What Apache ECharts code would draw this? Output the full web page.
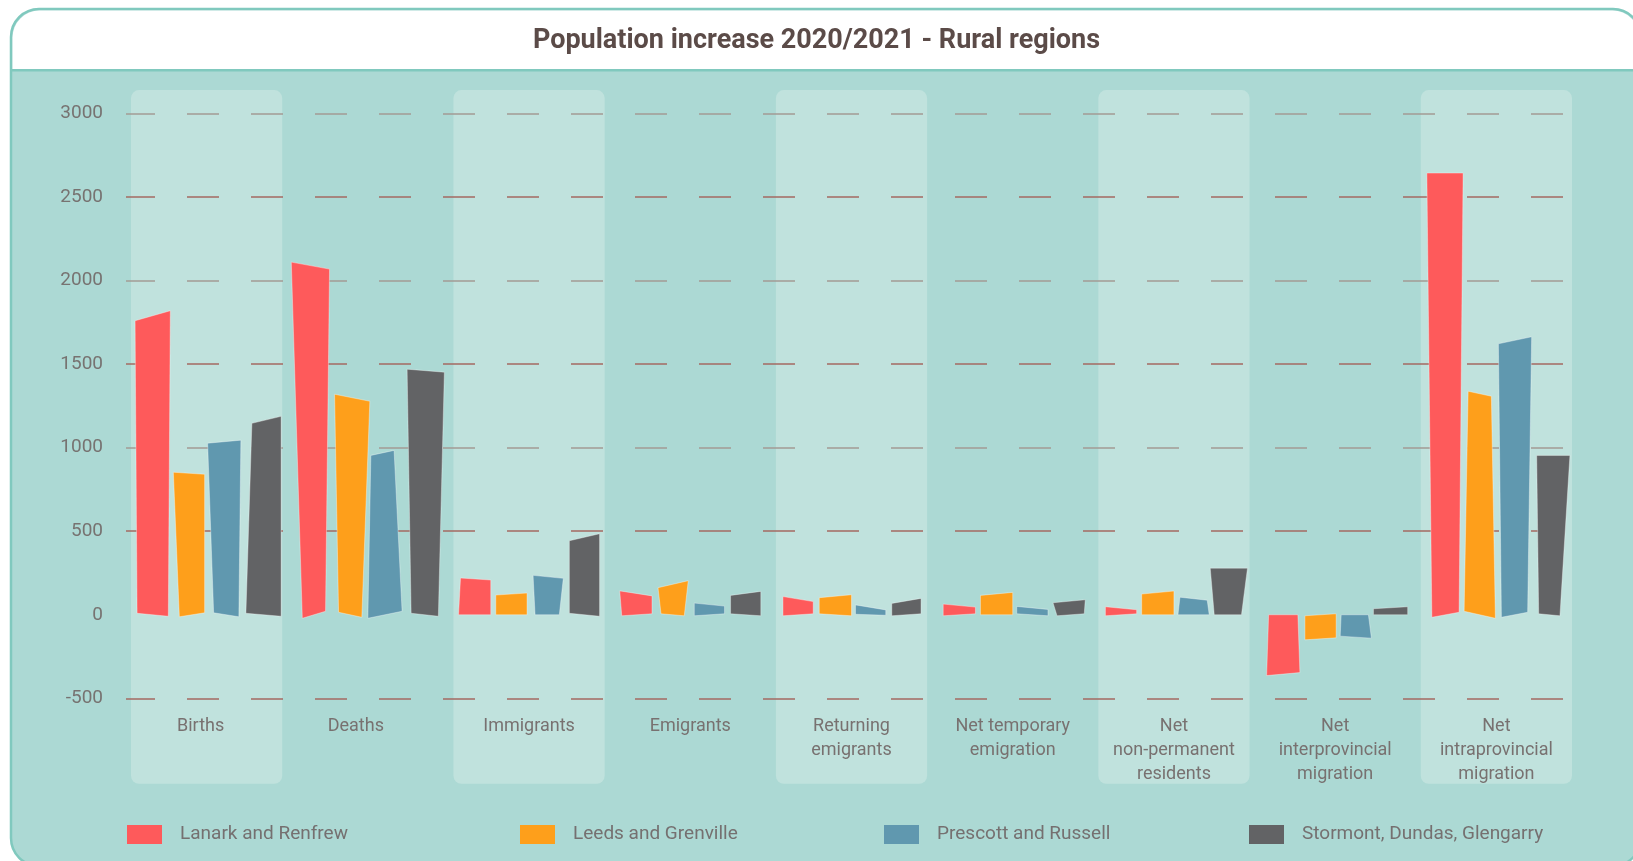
<!DOCTYPE html>
<html>
<head>
<meta charset="utf-8">
<script src="https://cdn.jsdelivr.net/npm/echarts@6/dist/echarts.min.js"></script>
<style>
html,body{margin:0;padding:0;background:#ffffff;}
#chart{width:1633px;height:861px;}
</style>
</head>
<body>
<div id="chart"></div>
<script>
// ---------- DATA ----------
const categories = ['Births', 'Deaths', 'Immigrants', 'Emigrants', 'Returning\nemigrants',
  'Net temporary\nemigration', 'Net\nnon-permanent\nresidents', 'Net\ninterprovincial\nmigration',
  'Net\nintraprovincial\nmigration'];
const seriesNames = ['Lanark and Renfrew', 'Leeds and Grenville', 'Prescott and Russell', 'Stormont, Dundas, Glengarry'];
const lanarkRenfrew   = [1790, 2090, 214, 128, 94, 55, 39, -355, 2644];
const leedsGrenville  = [847, 1299, 124, 183, 111, 125, 133, -144, 1323];
const prescottRussell = [1036, 969, 227, 61, 44, 41, 96, -134, 1643];
const stormontDG      = [1167, 1461, 464, 128, 83, 81, 279, 42, 954];
const yTicks = [-500, 0, 500, 1000, 1500, 2000, 2500, 3000];

// ---------- STYLE (hand-drawn look of each bar) ----------
const colors = ['#fe5a5b', '#fe9f1b', '#6098af', '#626365'];
// per bar: [valueEndTilt, baseEndTilt] in px (right corner minus left corner)
const tilts = [
  [[-10,3],[7,-7],[2,0],[5,-2],[5,-2],[3,-2],[3,-2],[-3,0],[0,-5]],
  [[2,-4],[7,5],[-2,0],[-7,2],[-3,2],[-3,0],[-3,0],[-2,-2],[5,7]],
  [[-3,4],[-5,-7],[3,0],[3,-2],[5,1],[3,2],[3,0],[2,0],[-7,-5]],
  [[-7,3],[3,3],[-7,3],[-4,2],[-5,-2],[-3,-2],[0,0],[-2,0],[0,2]]
];
// per bar corner x-offsets in px: [valueLeft, valueRight, baseLeft, baseRight]
const skews = [
  [[-1,2,1,0],[-6,0,5,-4],[2,0,0,0],[0,0,2,0],[2,0,2,0],[1,1,1,1],[2,1,2,1],[2,3,4,1],[1,5,6,1]],
  [[1,0,7,0],[1,4,5,-4],[1,0,1,0],[2,0,5,-4],[2,2,2,2],[2,2,2,2],[2,2,2,2],[4,3,4,3],[6,-3,2,1]],
  [[-1,0,5,-2],[1,-8,-2,0],[2,0,4,-4],[2,0,2,0],[2,0,2,0],[2,1,2,1],[4,-1,2,1],[3,2,4,-1],[0,1,3,-3]],
  [[7,4,1,4],[1,6,5,0],[2,0,2,0],[2,0,2,0],[2,-1,2,-1],[2,2,6,1],[-2,3,2,-3],[0,2,0,2],[2,3,4,-7]]
];
// small horizontal nudges of the category labels (px, negative = left)
const labelNudge = [-6, -12, 0, 0, 0, 0, 0, 0, 0];
const allValues = [lanarkRenfrew, leedsGrenville, prescottRussell, stormontDG];

const FONT = 'Roboto';
const chart = echarts.init(document.getElementById('chart'), null, {renderer: 'canvas'});

function bandRender(params, api) {
  const idx = api.value(0);
  if (idx % 2 !== 0) return null;
  const cs = params.coordSys;
  const c = api.coord([idx, 0]);
  const w = api.size([1, 0])[0];
  return {
    type: 'rect',
    shape: {x: c[0] - w / 2 + 5, y: cs.y - 23.5, width: w - 10, height: cs.height + 109, r: 8},
    style: {fill: '#c0e2dd'},
    silent: true
  };
}

function makeBarRender(k) {
  return function (params, api) {
    const cat = api.value(0);
    const val = api.value(1);
    const pv = api.coord([cat, val]);
    const p0 = api.coord([cat, 0]);
    const w = api.size([1, 0])[0];
    const cx = pv[0] + (k - 1.5) * w * 0.225;
    const hw = w * 0.1;
    const t = tilts[k][cat], s = skews[k][cat];
    const pts = [
      [cx - hw + s[0], pv[1] - t[0] / 2],
      [cx + hw + s[1], pv[1] + t[0] / 2],
      [cx + hw + s[3], p0[1] + t[1] / 2],
      [cx - hw + s[2], p0[1] - t[1] / 2]
    ];
    return {
      type: 'polygon',
      shape: {points: pts},
      style: {fill: colors[k], stroke: 'rgba(255,255,255,0.35)', lineWidth: 1}
    };
  };
}

const barSeries = seriesNames.map((name, k) => ({
  name: name,
  type: 'custom',
  renderItem: makeBarRender(k),
  data: allValues[k].map((v, i) => [i, v]),
  encode: {x: 0, y: 1},
  itemStyle: {color: colors[k]},
  clip: false,
  z: 5
}));

const legendLefts = [127, 520, 884, 1249];
const legends = seriesNames.map((name, k) => ({
  data: [name],
  left: legendLefts[k],
  top: 825,
  padding: 0,
  icon: 'rect',
  itemWidth: 35,
  itemHeight: 19,
  selectedMode: false,
  textStyle: {fontFamily: FONT, fontSize: 19, color: '#757070', padding: [0, 0, 0, 13]}
}));

const gridGray = '#a39b94', gridRed = '#a46a62';

const labelRich = {};
labelNudge.forEach((n, i) => {
  labelRich['c' + i] = {
    fontFamily: FONT, fontSize: 18, lineHeight: 24, color: '#787170',
    padding: n < 0 ? [0, -2 * n, 0, 0] : [0, 0, 0, 2 * n]
  };
});

const option = {
  backgroundColor: 'transparent',
  animation: false,
  graphic: [
    {type: 'rect', z: -10, shape: {x: 11, y: 9, width: 1630, height: 857, r: 28},
     style: {fill: '#acd9d4', stroke: '#80c9be', lineWidth: 2.5}},
    {type: 'rect', z: -9, shape: {x: 12.5, y: 10.5, width: 1627, height: 59, r: [27, 27, 0, 0]},
     style: {fill: '#ffffff'}},
    {type: 'rect', z: -9, shape: {x: 12, y: 69, width: 1630, height: 2.5},
     style: {fill: '#80c9be'}}
  ],
  title: {
    text: 'Population increase 2020/2021 - Rural regions',
    left: 'center',
    top: 23,
    textStyle: {fontFamily: FONT, fontSize: 27, fontWeight: 'bold', color: '#5b4b48'}
  },
  legend: legends,
  grid: {left: 126, right: 56, top: 113.6, bottom: 162.7, containLabel: false},
  xAxis: {
    type: 'category',
    data: categories,
    z: 1,
    axisLine: {show: false},
    axisTick: {show: false},
    splitLine: {show: false},
    axisLabel: {
      interval: 0, margin: 16, fontFamily: FONT, fontSize: 18, lineHeight: 24,
      color: '#787170', verticalAlign: 'top',
      formatter: function (v, i) {
        if (labelNudge[i] === 0) return v;
        return '{c' + i + '|' + v + '}';
      },
      rich: labelRich
    }
  },
  yAxis: {
    type: 'value',
    z: 1,
    min: yTicks[0],
    max: yTicks[yTicks.length - 1],
    interval: 500,
    axisLine: {show: false},
    axisTick: {show: false},
    axisLabel: {margin: 23, fontFamily: FONT, fontSize: 19, color: '#777371',
      formatter: function (v) { return String(v); }},
    splitLine: {
      show: true,
      showMinLine: true,
      showMaxLine: true,
      lineStyle: {
        color: [gridRed, 'rgba(0,0,0,0)', gridRed, gridGray, gridRed, gridGray, gridRed, gridGray],
        width: 1.5,
        type: [32, 32],
        dashOffset: 3
      }
    }
  },
  series: [
    {
      name: 'bands',
      type: 'custom',
      renderItem: bandRender,
      data: categories.map((c, i) => [i, 0]),
      encode: {x: 0, y: 1},
      clip: false,
      silent: true,
      z: -1
    }
  ].concat(barSeries)
};
chart.setOption(option);
</script>
</body>
</html>
